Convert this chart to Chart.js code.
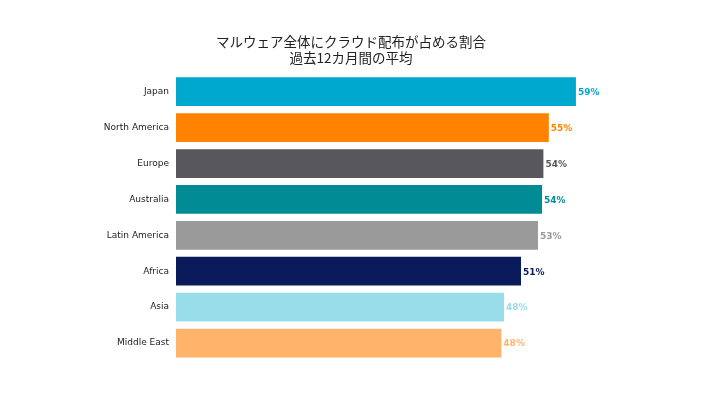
<!DOCTYPE html>
<html>
    <head>
        <meta charset="UTF-8" />
        <title>マルウェア全体にクラウド配布が占める割合</title>
        <style type="text/css">
            html, body { margin: 0; padding: 0; background: #ffffff; }
            .chartBox { width: 702px; height: 396px; }
        </style>
    </head>
    <body>
        <div class="chartBox">
            <canvas id="myChart1"></canvas>
        </div>
        <script src="https://cdn.jsdelivr.net/npm/chart.js"></script>
        <script>
            // regions and share of cloud-delivered malware (%)
            const regions = ['Japan', 'North America', 'Europe', 'Australia', 'Latin America', 'Africa', 'Asia', 'Middle East'];
            const shareValues = [59, 55, 54.2, 54, 53.4, 50.9, 48.4, 48];
            const shareLabels = ['59%', '55%', '54%', '54%', '53%', '51%', '48%', '48%'];
            const barColors = ['#00A8CE', '#FF8200', '#57575C', '#008B95', '#9A9A9A', '#0A1A5A', '#99DCEA', '#FFB36B'];
            const titleLines = ['マルウェア全体にクラウド配布が占める割合', '過去12カ月間の平均'];

            //value labels at the end of each bar
            const valueLabels = {
                id: 'valueLabels',
                afterDatasetsDraw(chart) {
                    const ctx = chart.ctx;
                    const meta = chart.getDatasetMeta(0);
                    ctx.save();
                    ctx.font = 'bold 9px "DejaVu Sans"';
                    ctx.textAlign = 'left';
                    ctx.textBaseline = 'middle';
                    meta.data.forEach((bar, i) => {
                        ctx.fillStyle = barColors[i];
                        ctx.fillText(shareLabels[i], bar.x + 2, bar.y + 1);
                    });
                    ctx.restore();
                }
            };

            const data = {
                labels: regions,
                datasets: [{
                    data: shareValues,
                    backgroundColor: barColors,
                    borderWidth: 0,
                    barPercentage: 1,
                    categoryPercentage: 0.8
                }]
            };

            const config = {
                type: 'bar',
                data,
                options: {
                    indexAxis: 'y',
                    responsive: false,
                    animation: false,
                    layout: {
                        padding: { top: 33, bottom: 35, left: 0, right: 0 }
                    },
                    plugins: {
                        legend: { display: false },
                        tooltip: { enabled: false },
                        title: {
                            display: true,
                            text: titleLines,
                            color: '#222222',
                            font: { family: '"Noto Sans CJK JP"', size: 13.5, weight: 'normal', lineHeight: 1.25 },
                            padding: { top: 0, bottom: 7 }
                        }
                    },
                    scales: {
                        x: {
                            display: false,
                            min: 0,
                            max: 77.6
                        },
                        y: {
                            grid: { display: false, drawTicks: false },
                            border: { display: false },
                            ticks: {
                                color: '#222222',
                                padding: 7,
                                font: { family: '"DejaVu Sans"', size: 9 }
                            },
                            afterFit(scale) {
                                scale.width = 176;
                            }
                        }
                    }
                },
                plugins: [valueLabels]
            };

            const canvas = document.getElementById('myChart1');
            canvas.width = 702;
            canvas.height = 396;
            const myChart1 = new Chart(canvas, config);
        </script>
    </body>
</html>
